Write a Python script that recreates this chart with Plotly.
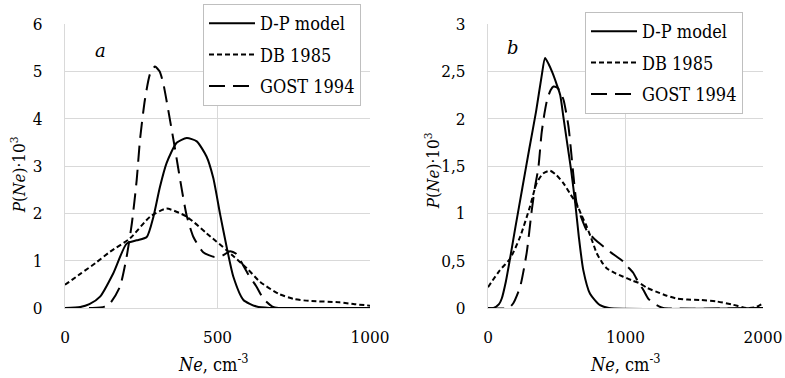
import plotly.graph_objects as go

# ---------------- data ----------------
# Panel a
a_dp_x = [0, 50, 80, 115, 158, 202, 235, 268, 290, 311, 333, 366, 399, 432, 464, 486, 508, 530, 552, 585, 628, 670, 750, 1000]
a_dp_y = [0, 0.02, 0.08, 0.24, 0.73, 1.36, 1.43, 1.5, 1.93, 2.55, 3.06, 3.49, 3.59, 3.52, 3.2, 2.75, 2.0, 1.29, 0.66, 0.17, 0.03, 0, 0, 0]

a_db_x = [0, 50, 100, 148, 213, 279, 333, 399, 464, 530, 596, 640, 700, 750, 800, 900, 950, 1000]
a_db_y = [0.49, 0.72, 0.95, 1.19, 1.47, 1.93, 2.1, 1.93, 1.58, 1.22, 0.84, 0.55, 0.3, 0.19, 0.15, 0.12, 0.08, 0.05]

a_go_x = [0, 90, 130, 148, 180, 202, 219, 235, 246, 262, 279, 295, 310, 322, 344, 361, 383, 399, 421, 453, 490, 520, 541, 560, 580, 600, 628, 650, 680, 700, 1000]
a_go_y = [0, 0, 0.03, 0.1, 0.45, 1.08, 1.78, 2.7, 3.56, 4.4, 4.95, 5.1, 5.0, 4.75, 3.98, 3.35, 2.5, 1.95, 1.5, 1.18, 1.08, 1.12, 1.2, 1.15, 0.95, 0.72, 0.45, 0.2, 0.03, 0, 0]

# Panel b
b_dp_x = [0, 40, 80, 100, 130, 160, 200, 250, 300, 350, 390, 415, 440, 470, 500, 525, 550, 575, 605, 635, 660, 693, 742, 815, 880, 2000]
b_dp_y = [0, 0, 0.04, 0.1, 0.28, 0.52, 0.86, 1.27, 1.68, 2.08, 2.45, 2.64, 2.58, 2.48, 2.36, 2.25, 2.0, 1.75, 1.45, 1.1, 0.76, 0.4, 0.15, 0.03, 0, 0]

b_db_x = [0, 87, 160, 233, 305, 354, 400, 451, 500, 548, 600, 645, 680, 718, 760, 790, 830, 863, 920, 984, 1050, 1105, 1160, 1227, 1300, 1372, 1450, 1540, 1660, 1780, 1880, 1950, 2000]
b_db_y = [0.22, 0.4, 0.52, 0.75, 1.07, 1.32, 1.42, 1.45, 1.4, 1.32, 1.2, 1.1, 0.98, 0.86, 0.7, 0.58, 0.48, 0.42, 0.37, 0.33, 0.29, 0.26, 0.21, 0.17, 0.13, 0.1, 0.09, 0.085, 0.07, 0.035, 0.0, 0.01, 0.05]

b_go_x = [0, 150, 184, 233, 281, 318, 342, 366, 390, 410, 430, 455, 476, 500, 520, 549, 585, 622, 645, 680, 718, 780, 839, 900, 984, 1020, 1057, 1090, 1130, 1165, 1202, 1240, 1275, 2000]
b_go_y = [0, 0, 0.05, 0.22, 0.58, 1.03, 1.28, 1.48, 1.85, 2.05, 2.2, 2.3, 2.34, 2.33, 2.3, 2.2, 1.92, 1.39, 1.1, 0.95, 0.82, 0.72, 0.65, 0.58, 0.49, 0.43, 0.37, 0.28, 0.19, 0.1, 0.05, 0.02, 0, 0]

series_names = ["D-P model", "DB 1985", "GOST 1994"]

a_xtick_vals = [0, 500, 1000]
a_xtick_text = ["0", "500", "1000"]
a_ytick_vals = [0, 1, 2, 3, 4, 5, 6]
a_ytick_text = ["0", "1", "2", "3", "4", "5", "6"]

b_xtick_vals = [0, 1000, 2000]
b_xtick_text = ["0", "1000", "2000"]
b_ytick_vals = [0, 0.5, 1, 1.5, 2, 2.5, 3]
b_ytick_text = ["0", "0,5", "1", "1,5", "2", "2,5", "3"]

# ---------------- figure ----------------
W, H = 785, 378
L, R, T, B = 65, 22, 23.5, 70
pw = W - L - R
ph = H - T - B

def px_x(px):
    return (px - L) / pw

def px_y(py):
    return (H - B - py) / ph

SERIF = "DejaVu Serif"
COND = "DejaVu Serif Condensed"
dashes = ["solid", "5px,3px", "16px,8px"]

fig = go.Figure()

panels = [
    ([a_dp_x, a_db_x, a_go_x], [a_dp_y, a_db_y, a_go_y], "x", "y", "legend", "a"),
    ([b_dp_x, b_db_x, b_go_x], [b_dp_y, b_db_y, b_go_y], "x2", "y2", "legend2", "b"),
]
for xs, ys, xa, ya, leg, tag in panels:
    for i, name in enumerate(series_names):
        fig.add_trace(go.Scatter(
            x=xs[i], y=ys[i], mode="lines", name=name,
            xaxis=xa, yaxis=ya, legend=leg, legendgroup=tag + str(i),
            line=dict(color="black", width=2, dash=dashes[i], shape="spline", smoothing=0.6),
            hoverinfo="skip",
        ))

x1_end = px_x(370)
x2_start = px_x(488)

axis_common = dict(
    showgrid=True, gridcolor="#d9d9d9", gridwidth=1,
    zeroline=False, showline=True, linecolor="#d9d9d9", linewidth=1,
    ticks="", tickfont=dict(family=COND, size=17, color="black"),
    tickmode="array", fixedrange=True, automargin=False,
)

legend_common = dict(
    xref="container", yref="container", xanchor="left", yanchor="top",
    bgcolor="white", bordercolor="#bfbfbf", borderwidth=1,
    font=dict(family=COND, size=18, color="black"),
    itemwidth=46, tracegroupgap=5,
)

fig.update_layout(
    width=W, height=H,
    margin=dict(l=L, r=R, t=T, b=B, pad=0, autoexpand=False),
    paper_bgcolor="white", plot_bgcolor="white",
    font=dict(family=SERIF, color="black"),
    xaxis=dict(domain=[0, x1_end], range=[0, 1000], tickvals=a_xtick_vals, ticktext=a_xtick_text,
               anchor="y", ticklabelstandoff=14, **axis_common),
    yaxis=dict(domain=[0, 1], range=[0, 6], tickvals=a_ytick_vals, ticktext=a_ytick_text,
               anchor="x", ticklabelstandoff=18, **axis_common),
    xaxis2=dict(domain=[x2_start, 1], range=[0, 2000], tickvals=b_xtick_vals, ticktext=b_xtick_text,
                anchor="y2", ticklabelstandoff=14, **axis_common),
    yaxis2=dict(domain=[0, 1], range=[0, 3], tickvals=b_ytick_vals, ticktext=b_ytick_text,
                anchor="x2", ticklabelstandoff=18, **axis_common),
    legend=dict(x=203 / W, y=1 - 4 / H, **legend_common),
    legend2=dict(x=585 / W, y=1 - 12 / H, **legend_common),
    showlegend=True,
)

annotations = [
    dict(text="<i>a</i>", x=px_x(100), y=px_y(50), size=18, fam=SERIF),
    dict(text="<i>b</i>", x=px_x(513), y=px_y(47), size=18, fam=SERIF),
    dict(text="<i>P</i>(<i>Ne</i>)·10<sup>3</sup>", x=px_x(18), y=px_y(175), textangle=-90, size=17, fam=COND),
    dict(text="<i>P</i>(<i>Ne</i>)·10<sup>3</sup>", x=px_x(432), y=px_y(170), textangle=-90, size=17, fam=COND),
    dict(text="<i>Ne</i>, cm<sup>-3</sup>", x=px_x(213), y=px_y(363), size=18, fam=COND),
    dict(text="<i>Ne</i>, cm<sup>-3</sup>", x=px_x(625), y=px_y(363), size=18, fam=COND),
]
for a in annotations:
    sz = a.pop("size")
    fam = a.pop("fam")
    fig.add_annotation(xref="paper", yref="paper", showarrow=False,
                       xanchor="center", yanchor="middle",
                       font=dict(family=fam, size=sz, color="black"), **a)

fig.write_html("out.html", config={"displayModeBar": False},
               post_script="document.body.style.margin='0';document.body.style.padding='0';")
